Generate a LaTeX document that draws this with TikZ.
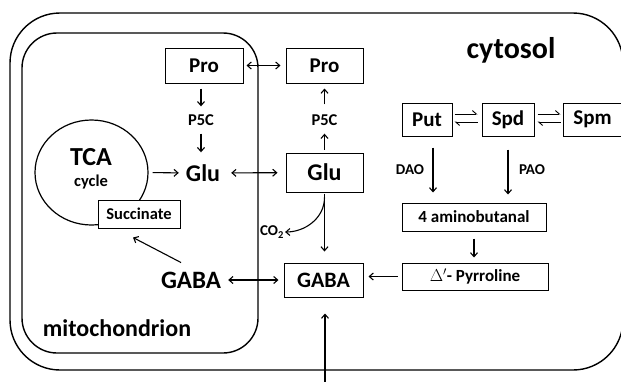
\documentclass[tikz,border=0pt]{standalone}
\usepackage{fontspec}
\setmainfont{Carlito}
\usetikzlibrary{arrows.meta,shapes.geometric}
\newcommand{\fsz}[1]{\fontsize{#1}{#1}\selectfont\bfseries}
\begin{document}
\begin{tikzpicture}[x=1pt,y=1pt,
  box/.style={draw, line width=1pt, inner sep=0pt, fill=white},
  lbl/.style={inner sep=0pt},
  arr/.style={line width=1.1pt, -{Straight Barb[length=4pt,width=7pt]}},
  darr/.style={line width=1.1pt, {Straight Barb[length=4pt,width=7pt]}-{Straight Barb[length=4pt,width=7pt]}},
  harp/.style={line width=0.9pt, -{Straight Barb[left,length=4pt,width=7pt]}},
  membrane/.style={line width=1.4pt}
]
\useasboundingbox (0,0) rectangle (621,-381);
% compartments
\draw[membrane, rounded corners=50pt] (10,-13) rectangle (623,-370);
\draw[membrane, rounded corners=35pt] (22,-33) rectangle (258,-353);

% TCA cycle
\node[draw, ellipse, line width=1.2pt, minimum width=113pt, minimum height=105pt, inner sep=0pt] (tca) at (91.5,-172.5) {};
\node[lbl, font=\fsz{26}] (tcat) at (91,-157) {TCA};
\node[lbl, font=\fsz{16.5}] (cyc) at (91,-182) {cycle};
\node[box, minimum width=82pt, minimum height=28pt, font=\fsz{16.5}] (succ) at (139,-214) {Succinate};

% mitochondrion
\node[box, minimum width=78pt, minimum height=35pt, font=\fsz{21}] (prom) at (204,-65.5) {Pro};
\node[lbl, font=\fsz{16.5}] (p5cm) at (201,-120) {P5C};
\node[lbl, font=\fsz{24}] (glum) at (203,-173) {Glu};
\node[lbl, font=\fsz{25}] (gabam) at (191,-280) {GABA};
\node[lbl, font=\fsz{24}] (mito) at (117,-328) {mitochondrion};

% cytosol
\node[lbl, font=\fsz{30}] (cyto) at (511,-50) {cytosol};
\node[box, minimum width=77pt, minimum height=35pt, font=\fsz{21}] (proc) at (324.5,-65.5) {Pro};
\node[lbl, font=\fsz{16.5}] (p5cc) at (324.5,-120) {P5C};
\node[box, minimum width=77pt, minimum height=39pt, font=\fsz{24}] (gluc) at (324.5,-172.5) {Glu};
\node[box, minimum width=79pt, minimum height=34pt, font=\fsz{22}] (gabac) at (323.5,-280) {GABA};
\node[lbl, font=\fsz{15}] (co2) at (272,-232) {CO\textsubscript{2}};

\node[box, minimum width=50pt, minimum height=33pt, font=\fsz{21}] (put) at (427,-119.5) {Put};
\node[box, minimum width=52pt, minimum height=33pt, font=\fsz{21}] (spd) at (508,-119.5) {Spd};
\node[box, minimum width=59pt, minimum height=33pt, font=\fsz{21}] (spm) at (592.5,-119.5) {Spm};
\node[lbl, font=\fsz{15}] (dao) at (410,-170) {DAO};
\node[lbl, font=\fsz{15}] (pao) at (532,-170) {PAO};
\node[box, minimum width=144pt, minimum height=28pt, font=\fsz{17}] (ab) at (474,-217) {4 aminobutanal};
\node[box, minimum width=146pt, minimum height=27pt, font=\fsz{17}] (pyr) at (475,-276.5) {$\Delta'$- Pyrroline};
\coordinate (bot) at (325,-388);

% connectors
\draw[darr, shorten <=3pt, shorten >=5pt] (prom) -- (proc);
\draw[arr, shorten <=5pt, shorten >=8pt] (prom.south -| p5cm) -- (p5cm.north);
\draw[arr, shorten <=8pt, shorten >=12pt] (p5cm.south) -- (p5cm.south |- glum.north);
\draw[arr, shorten <=3pt, shorten >=8pt] (gluc.north) -- (p5cc.south);
\draw[arr, shorten <=10pt, shorten >=5pt] (p5cc.north) -- (proc.south);
\draw[arr, shorten <=4pt, shorten >=7pt] (tca.east) -- (glum.west);
\draw[darr, shorten <=11pt, shorten >=8pt] (glum) -- (gluc);
\draw[arr] ([xshift=-10pt,yshift=9pt]gabam.north) -- ([xshift=-6pt,yshift=-9pt]succ.south);
\draw[darr, shorten <=7pt, shorten >=5pt] (gabam) -- (gabac);
\draw[arr, shorten <=1pt, shorten >=11pt] (gluc.south) -- (gluc.south |- gabac.north);
\draw[arr, shorten >=1pt] ([yshift=-5pt]gluc.south) to[out=-90,in=0] (co2.east);
\draw[arr, shorten <=4pt, shorten >=5pt] (pyr.west) -- (pyr.west -| gabac.east);
\draw[arr, shorten <=7pt, shorten >=5pt] (ab.south) -- (ab.south |- pyr.north);
\draw[arr, shorten <=11pt, shorten >=10pt] ([xshift=6pt]put.south) -- ([xshift=6pt]put.south |- ab.north);
\draw[arr, shorten <=13pt, shorten >=8pt] (spd.south) -- (spd.south |- ab.north);
\draw[harp, shorten <=2pt, shorten >=4pt] ([yshift=5.5pt]put.east) -- ([yshift=5.5pt]put.east -| spd.west);
\draw[harp, shorten <=4pt, shorten >=2pt] ([yshift=-2.5pt]spd.west) -- ([yshift=-2.5pt]spd.west -| put.east);
\draw[harp, shorten <=3pt, shorten >=2pt] ([yshift=5.5pt]spd.east) -- ([yshift=5.5pt]spd.east -| spm.west);
\draw[harp, shorten <=2pt, shorten >=3pt] ([yshift=-2.5pt]spm.west) -- ([yshift=-2.5pt]spm.west -| spd.east);
\draw[darr, shorten <=16pt] ([xshift=1.5pt]gabac.south) -- (bot);
\end{tikzpicture}
\end{document}
